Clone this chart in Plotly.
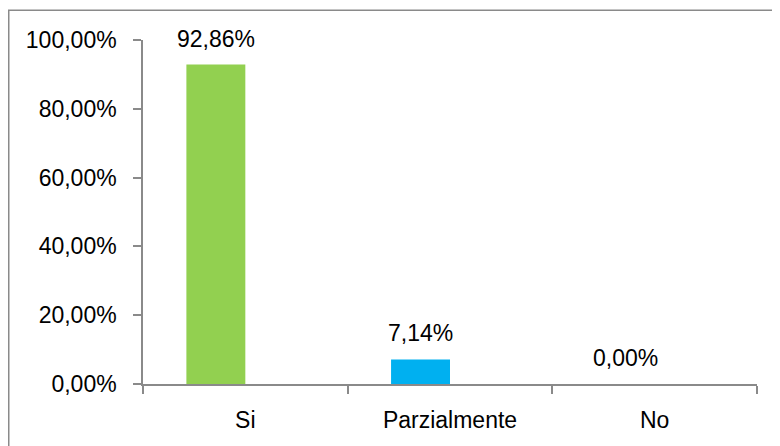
import plotly.graph_objects as go

categories = ["Si", "Parzialmente", "No"]
values = [0.9286, 0.0714, 0.0]
bar_colors = ["#92D050", "#00B0F0", "#92D050"]
y_ticks = [0, 0.2, 0.4, 0.6, 0.8, 1.0]

# page body has an 8px default margin, so the figure is laid out 8px up/left
OFF = 8
W, H = 780 - OFF, 446 - OFF
ML, MT = 143 - OFF, 40 - OFF
MR = W - (757 - OFF)
MB = H - (384 - OFF)
PW = W - ML - MR
PH = H - MT - MB

FONT = "Liberation Sans"
FS = 23
AX = "#8a8a8a"

bar_w = 0.288

fig = go.Figure()
fig.add_trace(go.Bar(
    x=categories, y=values,
    marker=dict(color=bar_colors, line=dict(width=0)),
    width=bar_w, offset=-bar_w,
    hoverinfo="skip",
))

def fmt(v):
    return f"{v*100:.2f}".replace(".", ",") + "%"

cat_px = PW / len(categories)
for c, v in zip(categories, values):
    fig.add_annotation(
        x=c, y=v, xref="x", yref="y", text=fmt(v), showarrow=False,
        xshift=-bar_w / 2 * cat_px, yshift=26, yanchor="middle",
        font=dict(family=FONT, size=FS, color="#000000"),
    )

# outer chart border (right and bottom edges fall outside the image)
bx0, by0 = 8 - OFF, 9.5 - OFF
fig.add_shape(
    type="rect", xref="paper", yref="paper",
    x0=(bx0 + 0.75 - ML) / PW, x1=(W + 20 - ML) / PW,
    y0=-(H + 20 - (H - MB)) / PH, y1=((H - MB) - (by0 + 0.75)) / PH,
    line=dict(color=AX, width=1.5), fillcolor="rgba(0,0,0,0)", layer="below",
)

fig.update_layout(
    width=W, height=H,
    margin=dict(l=ML, r=MR, t=MT, b=MB),
    paper_bgcolor="white", plot_bgcolor="white",
    separators=",.",
    showlegend=False,
    font=dict(family=FONT, size=FS, color="#000000"),
    xaxis=dict(
        type="category", range=[-0.5, 2.5],
        showline=True, linecolor=AX, linewidth=1.5,
        ticks="outside", tickson="boundaries", ticklen=8, tickcolor=AX, tickwidth=1.5,
        showgrid=False, zeroline=False, ticklabelstandoff=15, automargin=False,
        tickfont=dict(family=FONT, size=FS, color="#000000"),
    ),
    yaxis=dict(
        range=[0, 1], tickvals=y_ticks, tickformat=".2%",
        showline=True, linecolor=AX, linewidth=1.5,
        ticks="outside", ticklen=8, tickcolor=AX, tickwidth=1.5,
        showgrid=False, zeroline=False, ticklabelstandoff=12, automargin=False,
        tickfont=dict(family=FONT, size=FS, color="#000000"),
    ),
)

fig.write_html("out.html")
